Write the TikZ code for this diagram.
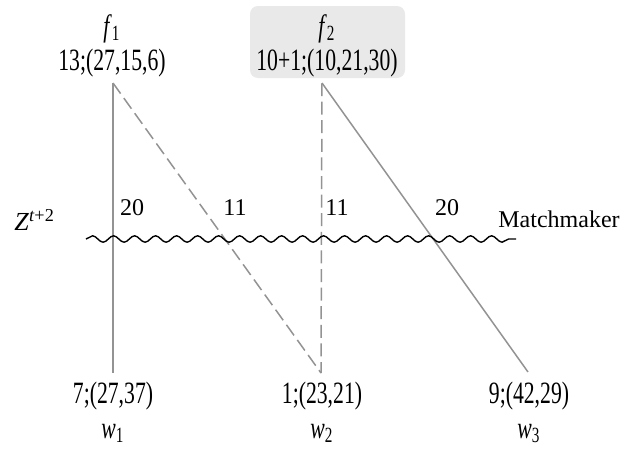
\documentclass[tikz,border=0pt]{standalone}
\usepackage{fontspec}
\setmainfont{Liberation Serif}
\newfontfamily\condfont[FakeStretch=0.7]{Liberation Serif}
\usepackage{tikz}
\usetikzlibrary{decorations.pathmorphing, positioning}

\begin{document}
\begin{tikzpicture}[
  x=0.5pt, y=-0.5pt,
  lab/.style={inner sep=0pt, anchor=base, font=\condfont\fontsize{15.5}{18}\selectfont},
  wt/.style={inner sep=0pt, anchor=base, font=\fontsize{12}{14}\selectfont},
  edge/.style={draw=gray!85, line width=0.75pt},
  dedge/.style={edge, dash pattern=on 6.5pt off 2.8pt},
  wave/.style={draw=black, line width=0.7pt, decorate, decoration={snake, segment length=10.5pt, amplitude=1.6pt}},
  hilite/.style={fill=gray!17, rounded corners=4pt}
]
\useasboundingbox (0,0) rectangle (621,450);

% Highlight of f2
\fill[hilite] (250,6) rectangle (405,78);

% Firms
\node[lab] (f1)    at (112,36) {\textit{f}\textsubscript{1}};
\node[lab] (f1val) at (112,70) {13;(27,15,6)};
\node[lab] (f2)    at (327,36) {\textit{f}\textsubscript{2}};
\node[lab] (f2val) at (327,70) {10+1;(10,21,30)};

% Workers
\node[lab] (w1val) at (113,403) {7;(27,37)};
\node[lab] (w2val) at (322,403) {1;(23,21)};
\node[lab] (w3val) at (529,403) {9;(42,29)};
\node[lab] (w1)    at (113,438) {\textit{w}\textsubscript{1}};
\node[lab] (w2)    at (322,438) {\textit{w}\textsubscript{2}};
\node[lab] (w3)    at (529,438) {\textit{w}\textsubscript{3}};

% Line ends
\coordinate (f1top) at (113,83);
\coordinate (f2top) at (322,83);
\coordinate (w1top) at (113,373);
\coordinate (w2top) at (321,373);
\coordinate (w3top) at (528,372);

% Edges
\draw[edge]  (f1top) -- (w1top);
\draw[dedge] (f1top) -- (w2top);
\draw[dedge] (f2top) -- (w2top);
\draw[edge]  (f2top) -- (w3top);

% Matchmaker
\coordinate (mml) at (86,239);
\coordinate (mmr) at (516,239);
\draw[wave] (mml) -- (mmr);
\node[inner sep=0pt, anchor=base west, font=\fontsize{13}{15}\selectfont] (z) at (14,230) {\textit{Z}\textsuperscript{\textit{t}+2}};
\node[inner sep=0pt, anchor=base west, font=\fontsize{12}{14}\selectfont] (mm) at (498,227) {Matchmaker};

% Weights
\node[wt] (e11) at (132,215) {20};
\node[wt] (e12) at (235,215) {11};
\node[wt] (e22) at (337,215) {11};
\node[wt] (e23) at (447,215) {20};

\end{tikzpicture}
\end{document}
